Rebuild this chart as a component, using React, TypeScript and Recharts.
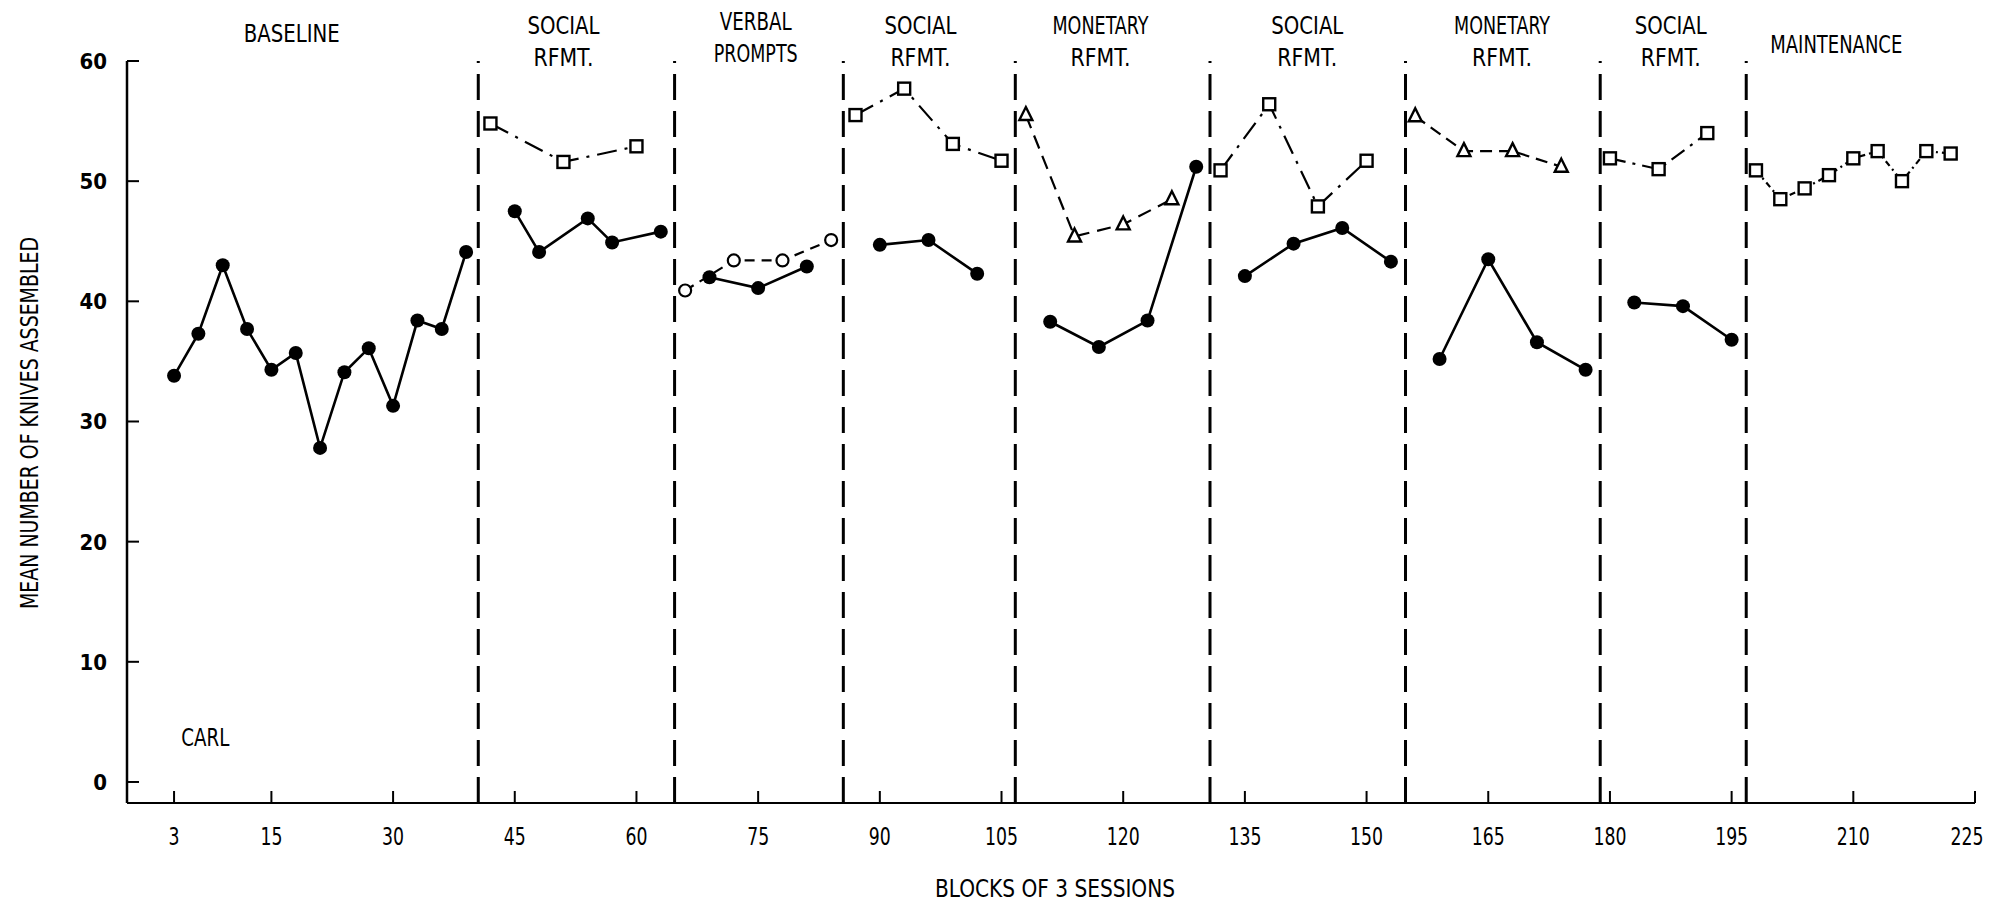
import { ComposedChart, Line, XAxis, YAxis, ReferenceLine, ReferenceDot } from 'recharts';

const FONT = '"DejaVu Sans Condensed", "Liberation Sans Narrow", "DejaVu Sans", sans-serif';

// x ticks and y ticks
const xTicks = [3, 15, 30, 45, 60, 75, 90, 105, 120, 135, 150, 165, 180, 195, 210, 225];
const yTicks = [0, 10, 20, 30, 40, 50, 60];

// phase change lines (blocks)
const phaseBreaks = [40.5, 64.7, 85.5, 106.7, 130.7, 154.8, 178.8, 196.8];
const phaseNames = [
  ['BASELINE'],
  ['SOCIAL', 'RFMT.'],
  ['VERBAL', 'PROMPTS'],
  ['SOCIAL', 'RFMT.'],
  ['MONETARY', 'RFMT.'],
  ['SOCIAL', 'RFMT.'],
  ['MONETARY', 'RFMT.'],
  ['SOCIAL', 'RFMT.'],
  ['MAINTENANCE'],
];
const phaseLabelAt = [17.5, 51, 74.7, 95, 117.2, 142.7, 166.7, 187.5, 207.9];

// baseline
const baselineX = [3, 6, 9, 12, 15, 18, 21, 24, 27, 30, 33, 36, 39];
const baselineY = [33.8, 37.3, 43.0, 37.7, 34.3, 35.7, 27.8, 34.1, 36.1, 31.3, 38.4, 37.7, 44.1];

// social rfmt 1
const social1SqX = [42, 51, 60];
const social1SqY = [54.8, 51.6, 52.9];
const social1DotX = [45, 48, 54, 57, 63];
const social1DotY = [47.5, 44.1, 46.9, 44.9, 45.8];

// verbal prompts
const verbalRingX = [66, 72, 78, 84];
const verbalRingY = [40.9, 43.4, 43.4, 45.1];
const verbalDotX = [69, 75, 81];
const verbalDotY = [42.0, 41.1, 42.9];

// social rfmt 2
const social2SqX = [87, 93, 99, 105];
const social2SqY = [55.5, 57.7, 53.1, 51.7];
const social2DotX = [90, 96, 102];
const social2DotY = [44.7, 45.1, 42.3];

// monetary rfmt 1
const money1TriX = [108, 114, 120, 126];
const money1TriY = [55.5, 45.4, 46.4, 48.5];
const money1DotX = [111, 117, 123, 129];
const money1DotY = [38.3, 36.2, 38.4, 51.2];

// social rfmt 3
const social3SqX = [132, 138, 144, 150];
const social3SqY = [50.9, 56.4, 47.9, 51.7];
const social3DotX = [135, 141, 147, 153];
const social3DotY = [42.1, 44.8, 46.1, 43.3];

// monetary rfmt 2
const money2TriX = [156, 162, 168, 174];
const money2TriY = [55.4, 52.5, 52.5, 51.2];
const money2DotX = [159, 165, 171, 177];
const money2DotY = [35.2, 43.5, 36.6, 34.3];

// social rfmt 4
const social4SqX = [180, 186, 192];
const social4SqY = [51.9, 51.0, 54.0];
const social4DotX = [183, 189, 195];
const social4DotY = [39.9, 39.6, 36.8];

// maintenance
const maintX = [198, 201, 204, 207, 210, 213, 216, 219, 222];
const maintY = [50.9, 48.5, 49.4, 50.5, 51.9, 52.5, 50.0, 52.5, 52.3];

const zip = (xs: number[], ys: number[]) => xs.map((x, i) => ({ x, y: ys[i] }));

type Marker = 'dot' | 'square' | 'triangle' | 'ring';

const series: { id: string; marker: Marker; dash?: string; data: { x: number; y: number }[] }[] = [
  { id: 'base', marker: 'dot', data: zip(baselineX, baselineY) },
  { id: 's1sq', marker: 'square', dash: '20 8 3 8', data: zip(social1SqX, social1SqY) },
  { id: 's1dot', marker: 'dot', data: zip(social1DotX, social1DotY) },
  { id: 'vring', marker: 'ring', dash: '10 7', data: zip(verbalRingX, verbalRingY) },
  { id: 'vdot', marker: 'dot', data: zip(verbalDotX, verbalDotY) },
  { id: 's2sq', marker: 'square', dash: '20 8 3 8', data: zip(social2SqX, social2SqY) },
  { id: 's2dot', marker: 'dot', data: zip(social2DotX, social2DotY) },
  { id: 'm1tri', marker: 'triangle', dash: '14 8', data: zip(money1TriX, money1TriY) },
  { id: 'm1dot', marker: 'dot', data: zip(money1DotX, money1DotY) },
  { id: 's3sq', marker: 'square', dash: '20 8 3 8', data: zip(social3SqX, social3SqY) },
  { id: 's3dot', marker: 'dot', data: zip(social3DotX, social3DotY) },
  { id: 'm2tri', marker: 'triangle', dash: '12 7', data: zip(money2TriX, money2TriY) },
  { id: 'm2dot', marker: 'dot', data: zip(money2DotX, money2DotY) },
  { id: 's4sq', marker: 'square', dash: '16 7 3 7', data: zip(social4SqX, social4SqY) },
  { id: 's4dot', marker: 'dot', data: zip(social4DotX, social4DotY) },
  { id: 'maint', marker: 'square', dash: '6 4 2 4', data: zip(maintX, maintY) },
];

const makeDot = (marker: Marker) => (p: any) => {
  const { cx, cy, index } = p;
  const k = `${marker}-${index}-${cx}`;
  if (cx == null || cy == null) return <g key={k} />;
  if (marker === 'dot') return <circle key={k} cx={cx} cy={cy} r={7} fill="#000" />;
  if (marker === 'ring')
    return <circle key={k} cx={cx} cy={cy} r={6} fill="#fff" stroke="#000" strokeWidth={2.2} />;
  if (marker === 'square')
    return <rect key={k} x={cx - 6} y={cy - 6} width={12} height={12} fill="#fff" stroke="#000" strokeWidth={2.4} />;
  return (
    <path
      key={k}
      d={`M${cx},${cy - 8} L${cx + 6.5},${cy + 5} L${cx - 6.5},${cy + 5} Z`}
      fill="#fff"
      stroke="#000"
      strokeWidth={2.4}
    />
  );
};

const XTick = ({ x, y, payload }: any) => {
  const s = String(payload.value);
  // the last label sits a little left of its tick, as in the original
  const lx = payload.value === 225 ? x - 8 : x;
  return (
    <g>
      <line x1={x} x2={x} y1={y} y2={y - 12} stroke="#000" strokeWidth={2} />
      <text
        x={lx}
        y={y + 42}
        textAnchor="middle"
        fontFamily={FONT}
        fontSize={25}
        fill="#000"
        textLength={s.length * 11}
        lengthAdjust="spacingAndGlyphs"
      >
        {s}
      </text>
    </g>
  );
};

const YTick = ({ x, y, payload }: any) => (
  <g>
    <line x1={x} x2={x + 12} y1={y} y2={y} stroke="#000" strokeWidth={2} />
    <text x={x - 20} y={y + 8} textAnchor="end" fontFamily={FONT} fontWeight="bold" fontSize={22} fill="#000">
      {payload.value}
    </text>
  </g>
);

const squeezed = (s: string, x: number, y: number, anchor: string = 'middle') => (
  <text
    key={s + y}
    x={x}
    y={y}
    textAnchor={anchor}
    fontFamily={FONT}
    fontSize={25}
    fill="#000"
    textLength={s.length * 12}
    lengthAdjust="spacingAndGlyphs"
  >
    {s}
  </text>
);

const PhaseLabel = (lines: string[]) => (p: any) => {
  const { cx, cy } = p;
  if (lines.length === 1) {
    const off = lines[0] === 'BASELINE' ? -19 : -8;
    return <g>{squeezed(lines[0], cx, cy + off)}</g>;
  }
  const top = lines[0] === 'VERBAL' ? -31 : -27;
  return (
    <g>
      {squeezed(lines[0], cx, cy + top)}
      {squeezed(lines[1], cx, cy + top + 32)}
    </g>
  );
};

export default function App() {
  return (
    <div style={{ position: 'absolute', left: 0, top: 0, width: 1999, height: 903, background: '#fff' }}>
      <ComposedChart width={1999} height={903} margin={{ top: 61, right: 24, bottom: 0, left: 0 }}>
        <XAxis
          dataKey="x"
          type="number"
          domain={[-2.8, 225]}
          ticks={xTicks}
          allowDataOverflow
          height={100}
          tickSize={0}
          tickMargin={0}
          tick={<XTick />}
          axisLine={{ stroke: '#000', strokeWidth: 2 }}
          label={{
            content: ({ viewBox }: any) =>
              squeezed('BLOCKS OF 3 SESSIONS', viewBox.x + viewBox.width / 2 + 4, viewBox.y + 94),
          }}
        />
        <YAxis
          type="number"
          domain={[-1.75, 60]}
          ticks={yTicks}
          allowDataOverflow
          width={127}
          tickSize={0}
          tickMargin={0}
          tick={<YTick />}
          axisLine={{ stroke: '#000', strokeWidth: 2.5 }}
          label={{
            content: ({ viewBox }: any) => {
              const cx = viewBox.x + 30;
              const cy = viewBox.y + viewBox.height / 2 - 9;
              return (
                <text
                  x={cx}
                  y={cy}
                  transform={`rotate(-90 ${cx} ${cy})`}
                  textAnchor="middle"
                  dominantBaseline="central"
                  fontFamily={FONT}
                  fontSize={24}
                  fill="#000"
                  textLength={372}
                  lengthAdjust="spacingAndGlyphs"
                >
                  MEAN NUMBER OF KNIVES ASSEMBLED
                </text>
              );
            },
          }}
        />
        {phaseBreaks.map((b) => (
          <ReferenceLine key={b} x={b} stroke="#000" strokeWidth={3} strokeDasharray="26 11" />
        ))}
        {phaseNames.map((lines, i) => (
          <ReferenceDot
            key={'lbl' + i}
            x={phaseLabelAt[i]}
            y={60}
            r={0}
            ifOverflow="visible"
            shape={PhaseLabel(lines)}
          />
        ))}
        <ReferenceDot
          x={3.9}
          y={3.0}
          r={0}
          ifOverflow="visible"
          shape={(p: any) => squeezed('CARL', p.cx, p.cy, 'start')}
        />
        {series.map((s) => (
          <Line
            key={s.id}
            data={s.data}
            dataKey="y"
            type="linear"
            stroke="#000"
            strokeWidth={s.marker === 'dot' ? 2.6 : 2.2}
            strokeDasharray={s.dash}
            dot={makeDot(s.marker)}
            activeDot={false}
            isAnimationActive={false}
          />
        ))}
      </ComposedChart>
    </div>
  );
}
